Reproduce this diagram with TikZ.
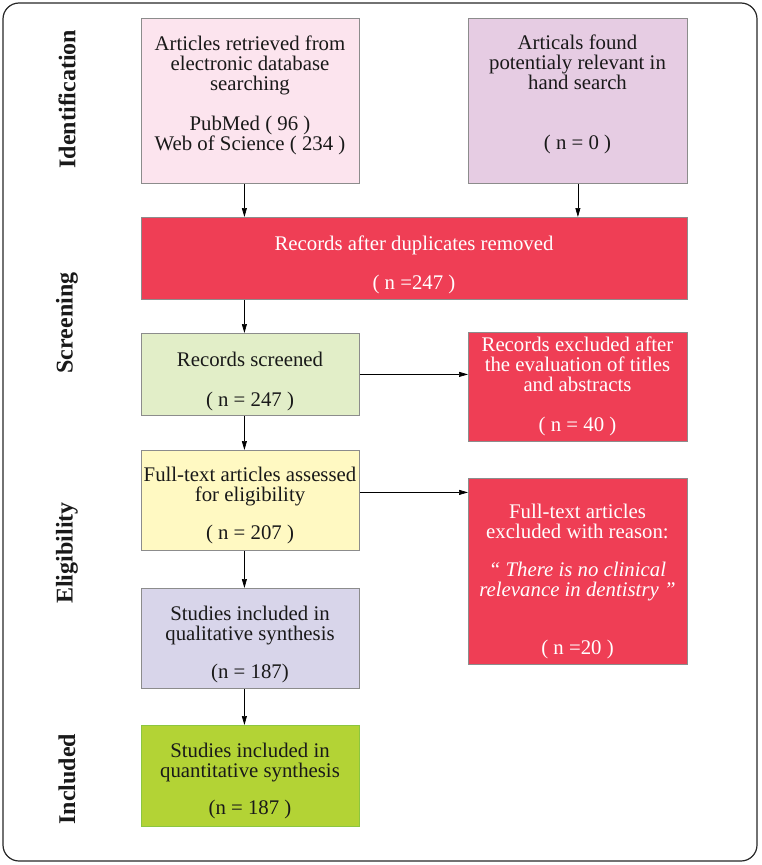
\documentclass[tikz,border=0pt]{standalone}
\usepackage{fontspec}
\setmainfont{Liberation Serif}
\usetikzlibrary{arrows.meta}
\definecolor{boxgray}{HTML}{8C8C8C}
\definecolor{pinkA}{HTML}{FCE4EE}
\definecolor{mauveB}{HTML}{E6CCE3}
\definecolor{redC}{HTML}{EF3E55}
\definecolor{greenD}{HTML}{E2EEC8}
\definecolor{yellowF}{HTML}{FFF9C2}
\definecolor{lavH}{HTML}{D8D5EA}
\definecolor{greenI}{HTML}{B3D335}
\definecolor{greenIb}{HTML}{8CC63F}
\begin{document}
\begin{tikzpicture}[x=1pt,y=-1pt,
  box/.style={draw=boxgray, line width=0.8pt, inner sep=0pt, anchor=north west},
  txt/.style={align=center, font=\fontsize{20.8}{20}\selectfont, inner sep=0pt, anchor=base, text=black!90},
  wtxt/.style={txt, text=white},
  side/.style={rotate=90, font=\bfseries\fontsize{24}{26}\selectfont, inner sep=0pt, text=black!90},
  arr/.style={-{Triangle[length=9pt,width=5pt]}, line width=0.7pt, black}]
\useasboundingbox (0,0) rectangle (761,865);
\draw[rounded corners=16pt, line width=1.2pt, draw=black!85] (3,3) rectangle (757,861);

% boxes
\node[box, fill=pinkA, minimum width=218pt, minimum height=165pt] (A) at (141,18) {};
\node[box, fill=mauveB, minimum width=219pt, minimum height=165pt] (B) at (468,18) {};
\node[box, fill=redC, minimum width=546pt, minimum height=82pt] (C) at (141,217) {};
\node[box, fill=greenD, minimum width=218pt, minimum height=82pt] (D) at (141,333) {};
\node[box, fill=redC, minimum width=219pt, minimum height=109pt] (E) at (468,332) {};
\node[box, fill=yellowF, minimum width=218pt, minimum height=100pt] (F) at (141,450) {};
\node[box, fill=redC, minimum width=219pt, minimum height=186pt] (G) at (468,478) {};
\node[box, fill=lavH, minimum width=218pt, minimum height=100pt] (H) at (141,588) {};
\node[box, fill=greenI, draw=greenIb, minimum width=218pt, minimum height=101pt] (I) at (141,725) {};

% texts (positioned at the baseline of their last line)
\node[txt] (At) at (250,150) {Articles retrieved from\\electronic database\\searching\\[20pt]PubMed ( 96 )\\Web of Science ( 234 )};
\node[txt] (Bt) at (577.5,149) {Articals found\\potentialy relevant in\\hand search\\[40pt]( n = 0 )};
\node[wtxt] (Ct) at (414,289) {Records after duplicates removed\\[19pt]( n =247 )};
\node[txt] (Dt) at (250,406) {Records screened\\[20pt]( n = 247 )};
\node[wtxt] (Et) at (577.5,431) {Records excluded after\\the evaluation of titles\\and abstracts\\[20pt]( n = 40 )};
\node[txt] (Ft) at (250,539) {Full-text articles assessed\\for eligibility\\[18pt]( n = 207 )};
\node[wtxt] (Gt) at (577.5,654) {Full-text articles\\excluded with reason:\\[18pt]\textit{“ There is no clinical}\\\textit{relevance in dentistry ”}\\[38pt]( n =20 )};
\node[txt] (Ht) at (250,678) {Studies included in\\qualitative synthesis\\[18pt](n = 187)};
\node[txt] (It) at (250,814) {Studies included in\\quantitative synthesis\\[17pt](n = 187 )};

% side labels
\node[side] (L1) at (67,99) {Identification};
\node[side] (L2) at (67,323) {Screening};
\node[side] (L3) at (67,553) {Eligibility};
\node[side] (L4) at (67,779) {Included};

% connector helper points
\coordinate (Fout) at ([yshift=8pt]F.east);

% arrows
\draw[arr] ([xshift=-6pt]A.south) -- ([xshift=-6pt]A.south |- C.north);
\draw[arr] (B.south) -- (B.south |- C.north);
\draw[arr] ([xshift=-6pt]A.south |- C.south) -- ([xshift=-6pt]D.north);
\draw[arr] (D.east) -- (E.west |- D.east);
\draw[arr] ([xshift=-6pt]D.south) -- ([xshift=-6pt]F.north);
\draw[arr] (Fout) -- (G.west |- Fout);
\draw[arr] ([xshift=-6pt]F.south) -- ([xshift=-6pt]H.north);
\draw[arr] ([xshift=-6pt]H.south) -- ([xshift=-6pt]I.north);
\end{tikzpicture}
\end{document}
